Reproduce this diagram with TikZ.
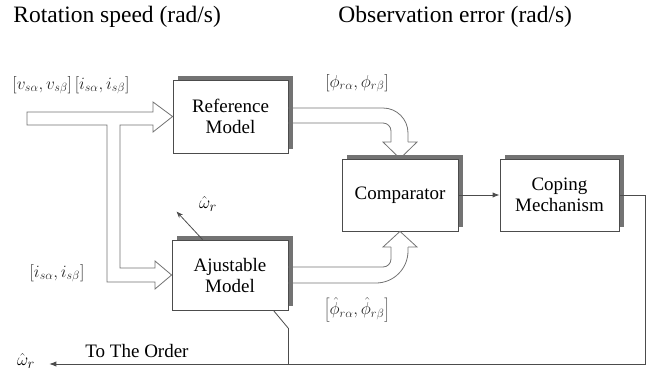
\documentclass[tikz,border=0pt]{standalone}
\usepackage{fontspec}
\newfontfamily\timesfont{Liberation Serif}
\usetikzlibrary{arrows.meta,shadows,calc}

\begin{document}
\begin{tikzpicture}[x=1pt, y=-1pt, >=Stealth, line width=0.8pt,
  every node/.style={font=\timesfont\fontsize{19}{21}\selectfont},
  block/.style={draw=black!70, fill=white, minimum width=116pt, minimum height=72pt, align=center, inner sep=0pt,
    general shadow={shadow xshift=5pt, shadow yshift=4pt, fill=black!55}},
  wire/.style={draw=black!70},
  hollow/.style={draw=black!55, line join=miter},
  mlabel/.style={font=\fontsize{17}{19}\selectfont, text=black!85}]
  \useasboundingbox (0,0) rectangle (654,373);

  % Titles
  \node[anchor=west, inner sep=0pt, font=\timesfont\fontsize{23.5}{26}\selectfont] (rot) at (13,17) {Rotation speed (rad/s)};
  \node[anchor=west, inner sep=0pt, font=\timesfont\fontsize{23.5}{26}\selectfont] (obs) at (338,17) {Observation error (rad/s)};

  % Blocks
  \node[block, minimum width=115pt, minimum height=73pt] (ref) at (230.5,116.5) {Reference\\Model};
  \node[block, minimum height=70pt] (adj) at (230,275) {Ajustable\\Model};
  \node[block] (cmp) at (400,195) {Comparator};
  \node[block, minimum width=119pt] (cop) at (559.5,195) {Coping\\Mechanism};

  % Input arrow split into both models
  \draw[hollow, fill=white] (27,112) -- (153,112) -- (153,102) -- (ref.west) -- (153,132) -- (153,125) -- (120,125)
    -- (120,268) -- (155,268) -- (155,261) -- (adj.west) -- (155,289) -- (155,282) -- (107,282) -- (107,125) -- (27,125) -- cycle;

  % Reference model output
  \draw[hollow, rounded corners=25pt] ($(ref.east)+(0,-8.5)$) -| (408,142);
  \draw[hollow, rounded corners=8pt] ($(ref.east)+(0,6.5)$) -| (391,142);
  \draw[hollow] (408,142) -- (417,142) -- (cmp.north) -- (383,142) -- (391,142);

  % Adjustable model output
  \draw[hollow, rounded corners=8pt] ($(adj.east)+(0,-8)$) -| (391,247);
  \draw[hollow, rounded corners=32pt] ($(adj.east)+(0,8)$) -| (408,247);
  \draw[hollow] (391,247) -- (383,247) -- (cmp.south) -- (417,247) -- (408,247);

  % Comparator to coping mechanism
  \draw[wire, -{Latex[length=7pt]}] (cmp) -- (cop);

  % Feedback
  \node[inner sep=0pt] (wout) at (26,361) {$\hat{\omega}_r$};
  \coordinate (fbk) at (645,364);
  \draw[wire, -{Latex[length=7pt]}] (cop.east) -| (fbk) -- ($(fbk -| wout.east)+(14,0)$);
  \node (order) at (137,351) {To The Order};
  \draw[wire] ($(adj.south east)+(-15,0)$) -- ++(15,18) -- (adj.south east |- fbk);

  % Estimated speed
  \node[inner sep=0pt] (west) at (208,204) {$\hat{\omega}_r$};
  \draw[wire, ->] ($(adj.north west)+(31,0)$) -- ++(-26,-28);

  % Signals
  \node[mlabel] (vin) at (71,85) {$\left[v_{s\alpha},v_{s\beta}\right]\left[i_{s\alpha},i_{s\beta}\right]$};
  \node[mlabel] (iin) at (57,273) {$\left[i_{s\alpha},i_{s\beta}\right]$};
  \node[mlabel] (phi) at (357,83) {$\left[\phi_{r\alpha},\phi_{r\beta}\right]$};
  \node[mlabel] (phihat) at (357,310) {$\left[\hat{\phi}_{r\alpha},\hat{\phi}_{r\beta}\right]$};
\end{tikzpicture}
\end{document}
